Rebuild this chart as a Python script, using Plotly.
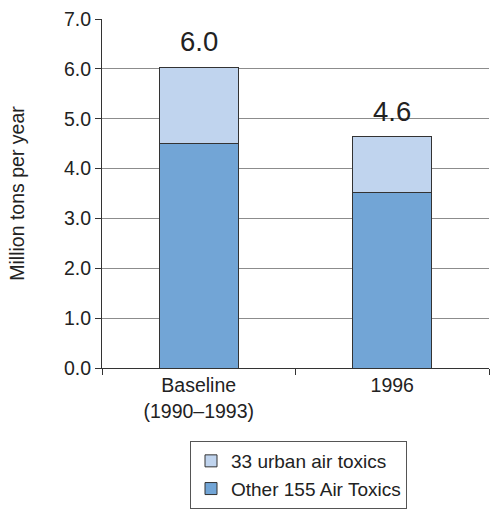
import plotly.graph_objects as go

categories = ["Baseline<br>(1990–1993)", "1996"]
other_155 = [4.51, 3.53]
urban_33 = [1.52, 1.11]
total_labels = ["6.0", "4.6"]
y_ticks = [0, 1, 2, 3, 4, 5, 6, 7]
y_tick_labels = ["0.0", "1.0", "2.0", "3.0", "4.0", "5.0", "6.0", "7.0"]

FONT = "Liberation Sans, Arial, sans-serif"

fig = go.Figure()
fig.add_trace(go.Bar(
    x=categories, y=other_155, name="Other 155 Air Toxics",
    marker=dict(color="#72a5d6", line=dict(color="#333333", width=1)),
    legendgroup="a",
))
fig.add_trace(go.Bar(
    x=categories, y=urban_33, name="33 urban air toxics",
    marker=dict(color="#c0d4ee", line=dict(color="#333333", width=1)),
    legendgroup="b",
))

totals = [a + b for a, b in zip(other_155, urban_33)]
for i, (t, lab) in enumerate(zip(totals, total_labels)):
    fig.add_annotation(x=i, y=t, text=lab, showarrow=False,
                       yanchor="bottom", yshift=8,
                       font=dict(size=27.5, color="#222222", family=FONT))

fig.update_layout(
    width=490, height=510,
    barmode="stack", bargap=0.59,
    plot_bgcolor="white", paper_bgcolor="white",
    margin=dict(l=102, r=1, t=19, b=142),
    font=dict(family=FONT, color="#222222", size=19.5),
    showlegend=True,
    legend=dict(
        traceorder="reversed", tracegroupgap=0,
        x=(190 - 102) / 387, xanchor="left", y=(368 - 441) / 349, yanchor="top",
        bordercolor="#555555", borderwidth=1,
        font=dict(size=19, color="#222222"),
        itemwidth=30,
    ),
    yaxis=dict(
        range=[0, 7], tickvals=y_ticks, ticktext=y_tick_labels,
        showgrid=True, gridcolor="#8c8c8c", gridwidth=1,
        showline=True, linecolor="#333333", linewidth=1,
        ticks="outside", ticklen=6, tickcolor="#333333",
        tickfont=dict(size=19.5), zeroline=False, automargin=False,
        title=dict(text="Million tons per year", font=dict(size=19.5), standoff=34),
    ),
    xaxis=dict(
        type="category", range=[-0.5, 1.5], automargin=False,
        showline=True, linecolor="#333333", linewidth=1,
        ticks="outside", ticklen=6, tickcolor="#333333",
        tickson="boundaries", tickfont=dict(size=19.5),
    ),
)

fig.write_html("out.html", config={"displayModeBar": False},
               post_script="document.body.style.margin='0';")
